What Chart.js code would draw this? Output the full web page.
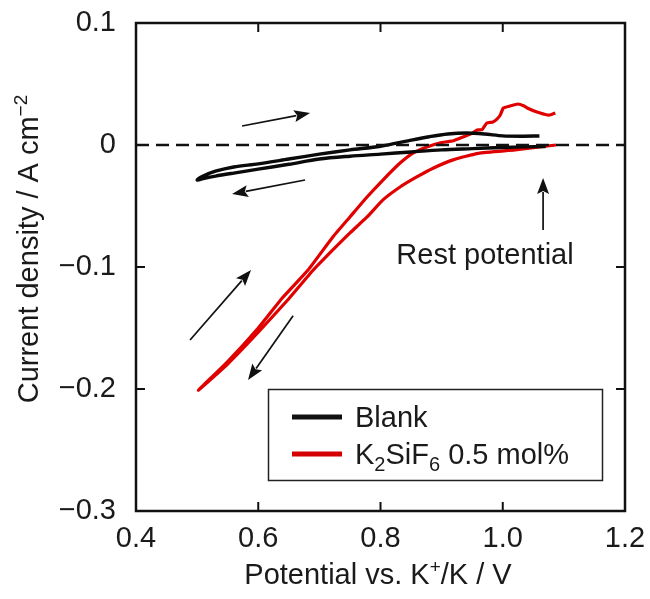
<!DOCTYPE html>
<html><head><meta charset="utf-8">
<script src="https://cdn.jsdelivr.net/npm/chart.js@4.4.0/dist/chart.umd.min.js"></script>
<style>html,body{margin:0;padding:0;background:#fff;}</style>
</head><body>
<canvas id="c" width="650" height="599"></canvas>
<script>
// ---- data ----
const xTicks = [0.4, 0.6, 0.8, 1.0, 1.2];
const xTickLabels = ['0.4', '0.6', '0.8', '1.0', '1.2'];
const yTicks = [-0.3, -0.2, -0.1, 0, 0.1];
const yTickLabels = ['\u22120.3', '\u22120.2', '\u22120.1', '0', '0.1'];

const seriesNames = ['Blank', 'K2SiF6 0.5 mol%'];

// Blank: cathodic scan from rest potential (leftwards), then return scan
const blankV = [1.07,1.0,0.95,0.9,0.85,0.8,0.75,0.7,0.65,0.6,0.56,0.53,0.51,0.50,
                0.51,0.53,0.56,0.6,0.65,0.7,0.75,0.8,0.85,0.88,0.91,0.94,0.97,1.0,1.03,1.06];
const blankI = [-0.0012,-0.002,-0.003,-0.004,-0.0057,-0.0075,-0.0092,-0.0115,-0.0158,-0.0198,-0.023,-0.0255,-0.0275,-0.0287,
                -0.0255,-0.0215,-0.018,-0.0155,-0.0115,-0.0075,-0.004,-0.001,0.004,0.0068,0.009,0.0098,0.009,0.0075,0.0072,0.0074];

// K2SiF6 0.5 mol%
const k2V = [1.087,1.06,1.02,0.96,0.92,0.886,0.86,0.832,0.804,0.778,0.75,0.722,0.69,0.65,0.6,0.55,0.502,
             0.55,0.6,0.64,0.6815,0.722,0.75,0.778,0.804,0.832,0.853,0.876,0.9,0.919,0.935,0.95,0.958,0.966,0.974,0.984,0.99,0.996,1.001,1.012,1.025,1.035,1.04,1.056,1.073,1.08,1.086];
const k2I = [0.0,-0.0016,-0.004,-0.0068,-0.012,-0.019,-0.026,-0.0344,-0.045,-0.059,-0.0721,-0.086,-0.1025,-0.126,-0.1535,-0.1795,-0.201,
             -0.1775,-0.150,-0.125,-0.1025,-0.0754,-0.059,-0.0426,-0.0287,-0.0148,-0.0066,-0.0016,0.002,0.0035,0.0066,0.0095,0.0123,0.0125,0.018,0.0189,0.021,0.0246,0.0303,0.032,0.0336,0.032,0.0303,0.027,0.0246,0.025,0.0262];

const zeroV = [0.4, 1.2];
const zeroI = [0, 0];

// annotation arrows (tail -> head), data units
const arrowTailV = [0.5735, 0.6766, 0.4884, 0.657, 1.066];
const arrowTailI = [0.0156, -0.0287, -0.1598, -0.140, -0.0697];
const arrowHeadV = [0.6848, 0.5571, 0.5882, 0.5833, 1.066];
const arrowHeadI = [0.0262, -0.0402, -0.1025, -0.1926, -0.027];
const restLabel = 'Rest potential';
const restLabelV = 0.971, restLabelI = -0.0975;

// ---- styles ----
const FONT = '"Liberation Sans", Arial, sans-serif';
const TXT = '#1a1a1a';
const RED = '#e00000';

const pts = (xs, ys) => xs.map((x, i) => ({x: x, y: ys[i]}));

function drawArrow(ctx, x0, y0, x1, y1) {
  const L = 16, W = 6;
  const dx = x1 - x0, dy = y1 - y0, d = Math.hypot(dx, dy);
  const ux = dx / d, uy = dy / d;
  const bx = x1 - ux * L, by = y1 - uy * L;
  ctx.beginPath(); ctx.moveTo(x0, y0); ctx.lineTo(bx + ux * 2, by + uy * 2); ctx.stroke();
  ctx.beginPath();
  ctx.moveTo(x1, y1);
  ctx.lineTo(bx - uy * W, by + ux * W);
  ctx.lineTo(bx + ux * 3, by + uy * 3);
  ctx.lineTo(bx + uy * W, by - ux * W);
  ctx.closePath(); ctx.fill();
}

function richText(ctx, parts, x, y, align) {
  let total = 0;
  parts.forEach(p => { ctx.font = p[1] + 'px ' + FONT; total += ctx.measureText(p[0]).width; });
  let cx = align === 'center' ? x - total / 2 : x;
  ctx.textAlign = 'left';
  parts.forEach(p => {
    ctx.font = p[1] + 'px ' + FONT;
    ctx.fillText(p[0], cx, y + p[2]);
    cx += ctx.measureText(p[0]).width;
  });
}

const decor = {
  id: 'decor',
  afterDatasetsDraw(chart) {
    const ctx = chart.ctx, a = chart.chartArea;
    const xs = chart.scales.x, ys = chart.scales.y;
    ctx.save();
    ctx.strokeStyle = '#111'; ctx.lineWidth = 2.5;
    ctx.strokeRect(a.left, a.top, a.right - a.left, a.bottom - a.top);
    const tl = 9;
    ctx.lineWidth = 2;
    ctx.beginPath();
    xTicks.forEach(v => {
      const px = xs.getPixelForValue(v);
      ctx.moveTo(px, a.bottom); ctx.lineTo(px, a.bottom - tl);
      ctx.moveTo(px, a.top); ctx.lineTo(px, a.top + tl);
    });
    yTicks.forEach(v => {
      const py = ys.getPixelForValue(v);
      ctx.moveTo(a.left, py); ctx.lineTo(a.left + tl, py);
      ctx.moveTo(a.right, py); ctx.lineTo(a.right - tl, py);
    });
    ctx.stroke();
    ctx.strokeStyle = '#111'; ctx.fillStyle = '#111'; ctx.lineWidth = 1.7;
    arrowTailV.forEach((v, i) => {
      drawArrow(ctx, xs.getPixelForValue(v), ys.getPixelForValue(arrowTailI[i]),
                xs.getPixelForValue(arrowHeadV[i]), ys.getPixelForValue(arrowHeadI[i]));
    });
    ctx.fillStyle = TXT; ctx.textBaseline = 'alphabetic';
    ctx.font = '29px ' + FONT; ctx.textAlign = 'center';
    ctx.fillText(restLabel, xs.getPixelForValue(restLabelV), ys.getPixelForValue(restLabelI));
    const lx = 268, ly = 389, lw = 334, lh = 91;
    ctx.fillStyle = '#fff'; ctx.fillRect(lx, ly, lw, lh);
    ctx.strokeStyle = '#222'; ctx.lineWidth = 1.5;
    ctx.strokeRect(lx + 0.5, ly + 0.5, lw, lh);
    ctx.lineWidth = 5;
    ctx.strokeStyle = '#111';
    ctx.beginPath(); ctx.moveTo(292, 417); ctx.lineTo(342, 417); ctx.stroke();
    ctx.strokeStyle = '#d40000';
    ctx.beginPath(); ctx.moveTo(292, 454); ctx.lineTo(342, 454); ctx.stroke();
    ctx.fillStyle = TXT; ctx.textBaseline = 'alphabetic';
    richText(ctx, [['Blank', 29, 0]], 355, 427, 'left');
    richText(ctx, [['K', 29, 0], ['2', 20, 7], ['SiF', 29, 0], ['6', 20, 7], [' 0.5 mol%', 29, 0]], 355, 464, 'left');
    richText(ctx, [['Potential vs. K', 29, 0], ['+', 19, -11], ['/K / V', 29, 0]], 378, 584, 'center');
    ctx.translate(38, 249); ctx.rotate(-Math.PI / 2);
    richText(ctx, [['Current density / A cm', 29, 0], ['\u22122', 19, -11]], 0, 0, 'center');
    ctx.restore();
  }
};

const tickFont = {family: FONT, size: 29};
const pickLabel = (vals, labels) => (v) => {
  const i = vals.findIndex(t => Math.abs(t - v) < 1e-9);
  return i >= 0 ? labels[i] : '';
};

new Chart(document.getElementById('c'), {
  type: 'scatter',
  data: {
    datasets: [
      {label: 'zero', data: pts(zeroV, zeroI), showLine: true, borderColor: '#111', borderWidth: 2.6,
       borderDash: [13, 7], pointRadius: 0, fill: false},
      {label: seriesNames[0], data: pts(blankV, blankI), showLine: true, borderColor: '#0a0a0a', borderWidth: 3.4,
       pointRadius: 0, tension: 0.3, fill: false},
      {label: seriesNames[1], data: pts(k2V, k2I), showLine: true, borderColor: RED, borderWidth: 3.2,
       pointRadius: 0, tension: 0.15, fill: false}
    ]
  },
  options: {
    responsive: false, animation: false, devicePixelRatio: 1,
    layout: {padding: {top: 23, right: 25, left: 0, bottom: 0}},
    plugins: {legend: {display: false}, tooltip: {enabled: false}},
    scales: {
      x: {type: 'linear', min: 0.4, max: 1.2,
          grid: {display: false, drawTicks: false}, border: {display: false},
          afterBuildTicks: s => { s.ticks = xTicks.map(v => ({value: v})); },
          ticks: {font: tickFont, color: TXT, padding: 11, maxRotation: 0, autoSkip: false,
                  callback: pickLabel(xTicks, xTickLabels)},
          afterFit: s => { s.height = 88; s.paddingLeft = 0; s.paddingRight = 0; }},
      y: {type: 'linear', min: -0.3, max: 0.1,
          grid: {display: false, drawTicks: false}, border: {display: false},
          afterBuildTicks: s => { s.ticks = yTicks.map(v => ({value: v})); },
          ticks: {font: tickFont, color: TXT, padding: 20, autoSkip: false,
                  callback: pickLabel(yTicks, yTickLabels)},
          afterFit: s => { s.width = 136; s.paddingTop = 0; s.paddingBottom = 0; }}
    }
  },
  plugins: [decor]
});
</script>
</body></html>
